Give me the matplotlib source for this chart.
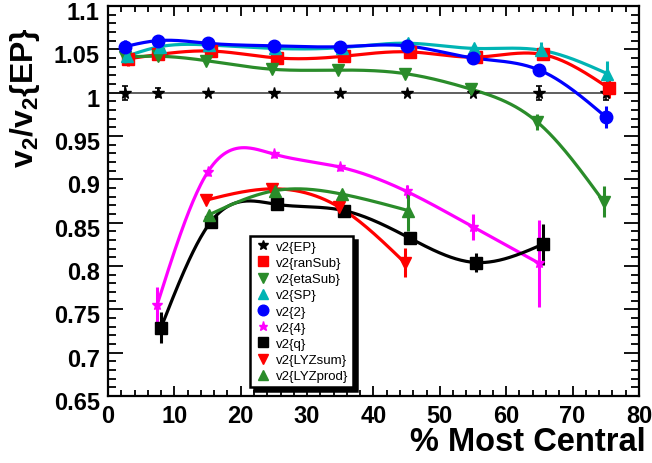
import numpy as np
import matplotlib
matplotlib.use("Agg")
import matplotlib.pyplot as plt
import matplotlib.transforms as mtransforms

plt.rcParams['font.family'] = ['Liberation Sans', 'DejaVu Sans']
plt.rcParams['mathtext.fontset'] = 'custom'
plt.rcParams['mathtext.rm'] = 'Liberation Sans:bold'
plt.rcParams['mathtext.bf'] = 'Liberation Sans:bold'
plt.rcParams['mathtext.it'] = 'Liberation Sans:bold'

# ---------------- data ----------------
x_ep = [2.5, 7.5, 15, 25, 35, 45, 55, 65, 75]
v_ep = [1.0, 1.0, 1.0, 1.0, 1.0, 1.0, 1.0, 1.0, 1.0]
e_ep = [0.008, 0.005, 0.001, 0.001, 0.001, 0.001, 0.002, 0.008, 0.008]

x_ransub = [3.0, 7.6, 15.5, 25.5, 35.5, 45.5, 55.5, 65.5, 75.5]
v_ransub = [1.039, 1.044, 1.048, 1.040, 1.042, 1.047, 1.041, 1.044, 1.005]
e_ransub = [0.008, 0.003, 0.003, 0.003, 0.003, 0.003, 0.003, 0.006, 0.011]

x_etasub = [2.5, 7.5, 14.7, 24.7, 34.7, 44.7, 54.7, 64.7, 74.7]
v_etasub = [1.041, 1.042, 1.037, 1.027, 1.026, 1.022, 1.004, 0.966, 0.874]
e_etasub = [0.004, 0.002, 0.002, 0.002, 0.002, 0.002, 0.003, 0.009, 0.018]

x_sp = [2.8, 7.8, 15.2, 25.2, 35.2, 45.2, 55.2, 65.2, 75.2]
v_sp = [1.042, 1.053, 1.055, 1.051, 1.052, 1.057, 1.051, 1.049, 1.022]
e_sp = [0.005, 0.002, 0.002, 0.002, 0.002, 0.002, 0.003, 0.009, 0.015]

x_2 = [2.5, 7.5, 15, 25, 35, 45, 55, 65, 75]
v_2 = [1.053, 1.060, 1.057, 1.054, 1.053, 1.054, 1.040, 1.026, 0.972]
e_2 = [0.008, 0.002, 0.002, 0.002, 0.002, 0.002, 0.003, 0.006, 0.013]

x_4 = [7.4, 15, 25, 35, 45, 55, 65]
v_4 = [0.755, 0.908, 0.929, 0.914, 0.886, 0.845, 0.803]
e_4 = [0.021, 0.004, 0.004, 0.004, 0.008, 0.015, 0.050]

x_q = [8.0, 15.5, 25.5, 35.5, 45.5, 55.5, 65.5]
v_q = [0.729, 0.851, 0.871, 0.864, 0.832, 0.804, 0.825]
e_q = [0.018, 0.004, 0.003, 0.004, 0.005, 0.011, 0.024]

x_lyzsum = [14.8, 24.7, 34.8, 44.7]
v_lyzsum = [0.876, 0.889, 0.868, 0.804]
e_lyzsum = [0.003, 0.003, 0.003, 0.017]

x_lyzprod = [15.2, 25.2, 35.2, 45.2]
v_lyzprod = [0.859, 0.887, 0.883, 0.864]
e_lyzprod = [0.005, 0.003, 0.003, 0.024]

labels = ['v2{EP}', 'v2{ranSub}', 'v2{etaSub}', 'v2{SP}', 'v2{2}',
          'v2{4}', 'v2{q}', 'v2{LYZsum}', 'v2{LYZprod}']

y_ticks = [0.65, 0.7, 0.75, 0.8, 0.85, 0.9, 0.95, 1.0, 1.05, 1.1]
y_ticklabels = ['0.65', '0.7', '0.75', '0.8', '0.85', '0.9', '0.95', '1', '1.05', '1.1']


def natural_spline(x, y, n=300):
    x = np.asarray(x, float)
    y = np.asarray(y, float)
    m = len(x)
    h = np.diff(x)
    A = np.zeros((m, m))
    b = np.zeros(m)
    A[0, 0] = 1
    A[-1, -1] = 1
    for i in range(1, m - 1):
        A[i, i - 1] = h[i - 1]
        A[i, i] = 2 * (h[i - 1] + h[i])
        A[i, i + 1] = h[i]
        b[i] = 3 * ((y[i + 1] - y[i]) / h[i] - (y[i] - y[i - 1]) / h[i - 1])
    c = np.linalg.solve(A, b)
    xs = np.linspace(x[0], x[-1], n)
    ys = np.empty_like(xs)
    for k, xv in enumerate(xs):
        i = min(np.searchsorted(x, xv, side='right') - 1, m - 2)
        i = max(i, 0)
        bi = (y[i + 1] - y[i]) / h[i] - h[i] * (2 * c[i] + c[i + 1]) / 3
        di = (c[i + 1] - c[i]) / (3 * h[i])
        dx = xv - x[i]
        ys[k] = y[i] + bi * dx + c[i] * dx ** 2 + di * dx ** 3
    return xs, ys


fig = plt.figure(figsize=(6.52, 4.64), dpi=100)
ax = fig.add_axes([0.1656, 0.1444, 0.8144, 0.8406])

green = '#2a8c2a'
cyan = '#00b4b4'

series = [
    (x_ransub, v_ransub, e_ransub, 'red', 's', 8.5, labels[1]),
    (x_etasub, v_etasub, e_etasub, green, 'v', 9, labels[2]),
    (x_sp, v_sp, e_sp, cyan, '^', 9, labels[3]),
    (x_2, v_2, e_2, 'blue', 'o', 9, labels[4]),
    (x_4, v_4, e_4, 'magenta', '*', 8, labels[5]),
    (x_q, v_q, e_q, 'black', 's', 9, labels[6]),
    (x_lyzsum, v_lyzsum, e_lyzsum, 'red', 'v', 9, labels[7]),
    (x_lyzprod, v_lyzprod, e_lyzprod, green, '^', 9, labels[8]),
]

handles = []
# EP: straight line with stars
ax.plot(x_ep, v_ep, color='#444444', lw=1.2, zorder=2)
ax.errorbar(x_ep, v_ep, yerr=e_ep, fmt='none', ecolor='black', elinewidth=1.2,
            capsize=2.5, capthick=1.2, zorder=3)
h_ep, = ax.plot(x_ep, v_ep, ls='none', marker='*', ms=8.5, color='black', zorder=4)
handles.append(h_ep)

for xs_, ys_, es_, col, mk, ms, lab in series:
    sx, sy = natural_spline(xs_, ys_)
    ax.plot(sx, sy, color=col, lw=2.3, zorder=2, solid_capstyle='round')
    ax.errorbar(xs_, ys_, yerr=es_, fmt='none', ecolor=col, elinewidth=2.2,
                capsize=0, zorder=3)
    h, = ax.plot(xs_, ys_, ls='none', marker=mk, ms=ms, color=col,
                 markeredgecolor=col, zorder=4)
    handles.append(h)

ax.set_xlim(0, 80)
ax.set_ylim(0.65, 1.1)
ax.set_xticks(np.arange(0, 81, 10))
ax.set_xticks(np.arange(0, 81, 2), minor=True)
ax.set_yticks(y_ticks)
ax.set_yticks(np.arange(0.65, 1.1001, 0.01), minor=True)
ax.set_yticklabels(y_ticklabels)

for sp in ax.spines.values():
    sp.set_linewidth(1.6)

ax.tick_params(axis='both', which='both', direction='in', top=True, right=True,
               width=1.3, labelsize=17)
ax.tick_params(axis='y', which='major', length=11, pad=6)
ax.tick_params(axis='y', which='minor', length=5.5)
ax.tick_params(axis='x', which='major', length=7.5, pad=6)
ax.tick_params(axis='x', which='minor', length=4)
shift = mtransforms.ScaledTranslation(0, -3 / 72, fig.dpi_scale_trans)
for lab in ax.get_yticklabels():
    lab.set_fontweight('bold')
    lab.set_transform(lab.get_transform() + shift)
for lab in ax.get_xticklabels():
    lab.set_fontweight('bold')

ax.set_xlabel('% Most Central', fontsize=23.5, fontweight='bold',
              ha='right', va='top')
ax.xaxis.set_label_coords(1.013, -0.078)
ax.set_ylabel(r'$\mathrm{v_2/v_2\{EP\}}$', fontsize=23, ha='center', va='bottom')
ax.yaxis.set_label_coords(-0.124, 0.768)

leg = ax.legend(handles, labels, loc='lower left', bbox_to_anchor=(0.267, 0.023),
                borderaxespad=0, fontsize=9.5, labelspacing=0.3, handletextpad=0.35,
                handlelength=1.3, borderpad=0.35, fancybox=False, framealpha=1,
                edgecolor='black', markerscale=0.85,
                shadow={'ox': 3, 'oy': -3, 'facecolor': 'black',
                        'edgecolor': 'black', 'alpha': 1})
leg.get_frame().set_linewidth(1.8)

fig.savefig('out.png', dpi=100)
